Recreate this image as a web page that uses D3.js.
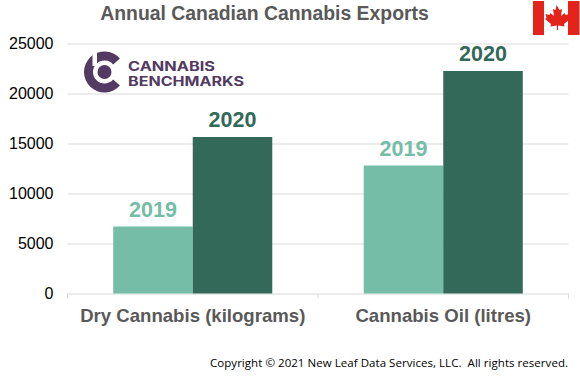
<!DOCTYPE html>
<html>
<head>
<meta charset="utf-8">
<script src="https://cdn.jsdelivr.net/npm/d3@7"></script>
<style>
  html, body { margin: 0; padding: 0; background: #fff; }
  svg { display: block; font-family: "Liberation Sans", Arial, sans-serif; }
  .domain { display: none; }
</style>
</head>
<body>
<script>
var categories = ["Dry Cannabis (kilograms)", "Cannabis Oil (litres)"];
var years = ["2019", "2020"];
var values2019 = [6700, 12800];
var values2020 = [15650, 22250];
var yTicks = [0, 5000, 10000, 15000, 20000, 25000];

var width = 580, height = 376;
var left = 67.5, right = 568.5, top_ = 43.5, bottom = 293.5;
var colors = ["#75bda6", "#336958"];

var svg = d3.select("body").append("svg")
    .attr("width", width)
    .attr("height", height);

var x = d3.scaleBand().domain(categories).range([left, right]);
var xInner = d3.scaleBand().domain(years).range([0, x.bandwidth()]).paddingOuter(0.575).paddingInner(0);
var y = d3.scaleLinear().domain([0, 25000]).range([bottom, top_]);

// gridlines and y labels
var yAxis = svg.append("g")
    .attr("transform", "translate(" + left + ",0)")
    .call(d3.axisLeft(y).tickValues(yTicks).tickFormat(d3.format("d")).tickSize(-(right - left)).tickPadding(14));
yAxis.selectAll(".tick line").attr("stroke", "#d9d9d9").attr("stroke-width", 1);
yAxis.selectAll(".tick text")
    .attr("font-size", 16)
    .attr("font-family", "'Liberation Sans', Arial, sans-serif")
    .attr("fill", "#000");

// category axis
var xAxis = svg.append("g")
    .attr("transform", "translate(0," + bottom + ")");
xAxis.selectAll("line")
    .data([left, x(categories[1]), right])
    .enter().append("line")
    .attr("x1", function(d) { return d; })
    .attr("x2", function(d) { return d; })
    .attr("y1", 0)
    .attr("y2", 5)
    .attr("stroke", "#d9d9d9");
xAxis.selectAll("text")
    .data(categories)
    .enter().append("text")
    .attr("x", function(d) { return x(d) + x.bandwidth() / 2; })
    .attr("y", 28)
    .attr("text-anchor", "middle")
    .attr("font-size", 18.6)
    .attr("font-weight", "bold")
    .attr("fill", "#595959")
    .text(function(d) { return d; });

// bars and their year labels
[values2019, values2020].forEach(function(series, s) {
  svg.append("g").selectAll("rect")
      .data(series)
      .enter().append("rect")
      .attr("x", function(d, i) { return x(categories[i]) + xInner(years[s]); })
      .attr("y", function(d) { return y(d); })
      .attr("width", xInner.bandwidth())
      .attr("height", function(d) { return y(0) - y(d); })
      .attr("fill", colors[s]);
  svg.append("g").selectAll("text")
      .data(series)
      .enter().append("text")
      .attr("x", function(d, i) { return x(categories[i]) + xInner(years[s]) + xInner.bandwidth() / 2; })
      .attr("y", function(d) { return y(d) - 10; })
      .attr("text-anchor", "middle")
      .attr("font-size", 21.5)
      .attr("font-weight", "bold")
      .attr("fill", colors[s])
      .text(years[s]);
});

// title
svg.append("text")
    .attr("x", 264.5)
    .attr("y", 20)
    .attr("text-anchor", "middle")
    .attr("font-size", 19.4)
    .attr("font-weight", "bold")
    .attr("fill", "#595959")
    .text("Annual Canadian Cannabis Exports");

// copyright
svg.append("text")
    .attr("x", 568)
    .attr("y", 367)
    .attr("text-anchor", "end")
    .attr("font-size", 11.5)
    .attr("font-family", "'Open Sans', sans-serif")
    .attr("fill", "#000")
    .attr("textLength", 358)
    .attr("xml:space", "preserve")
    .text("Copyright © 2021 New Leaf Data Services, LLC.  All rights reserved.");

// logo
var logo = svg.append("g").attr("fill", "#523a62");
var arc = d3.arc();
logo.append("path")
    .attr("transform", "translate(104.5,72)")
    .attr("d", arc({ innerRadius: 11.5, outerRadius: 20.5, startAngle: Math.PI / 2 + 0.72, endAngle: 2.5 * Math.PI - 0.72 }));
logo.append("rect").attr("x", 92.5).attr("y", 50).attr("width", 4.5).attr("height", 16).attr("fill", "#fff");
logo.append("circle").attr("cx", 104.5).attr("cy", 72).attr("r", 7);
logo.selectAll("text")
    .data([["CANNABIS", 70.5, 87], ["BENCHMARKS", 86, 116]])
    .enter().append("text")
    .attr("x", 128)
    .attr("y", function(d) { return d[1]; })
    .attr("font-size", 13)
    .attr("font-weight", "bold")
    .attr("font-family", "Inter, sans-serif")
    .attr("textLength", function(d) { return d[2]; })
    .attr("lengthAdjust", "spacingAndGlyphs")
    .text(function(d) { return d[0]; });

// flag
var flag = svg.append("g").attr("transform", "translate(533,1)");
flag.append("rect").attr("width", 11).attr("height", 34).attr("fill", "#e4241b");
flag.append("rect").attr("x", 35).attr("width", 11.5).attr("height", 34).attr("fill", "#e4241b");
flag.append("path")
    .attr("fill", "#e4241b")
    .attr("d", "M23.5,4l3,5 2.5,-1 -1,7 3.5,-3 1,2 4,-1 -1,4 1.5,1 -6,5 0.6,2.5 -6.5,-1V29h-1.2V24.5l-6.5,1 0.6,-2.5 -6,-5 1.5,-1 -1,-4 4,1 1,-2 3.5,3 -1,-7 2.5,1z");
</script>
</body>
</html>
